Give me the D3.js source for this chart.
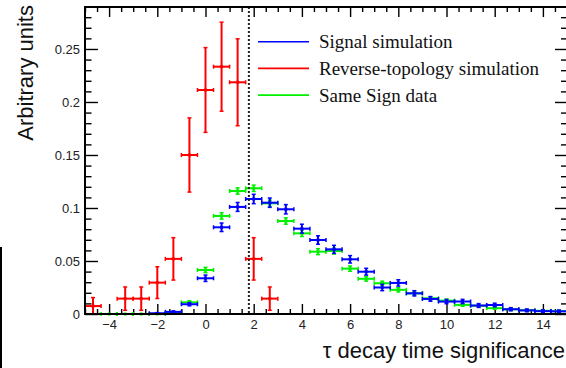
<!DOCTYPE html>
<html>
<head>
<meta charset="utf-8">
<script src="https://cdn.jsdelivr.net/npm/d3@7"></script>
<style>
  html, body { margin: 0; padding: 0; background: #fff; }
  svg { display: block; }
</style>
</head>
<body>
<svg id="chart" width="566" height="368"></svg>
<script>
// Bin centres of the decay-time-significance histograms (bin width 2/3)
const binCenters = [-4.667, -4, -3.333, -2.667, -2, -1.333, -0.667, 0, 0.667, 1.333,
                    2, 2.667, 3.333, 4, 4.667, 5.333, 6, 6.667, 7.333, 8,
                    8.667, 9.333, 10, 10.667, 11.333, 12, 12.667, 13.333, 14, 14.667];
const binWidth = 2 / 3;

// Signal simulation (blue)
const signalValues = [null, null, null, null, 0.0007, 0.002, 0.0092, 0.0337, 0.0818, 0.101,
                      0.1085, 0.105, 0.0988, 0.0805, 0.0698, 0.061, 0.0516, 0.0399, 0.025, 0.0293,
                      0.0195, 0.0142, 0.0117, 0.0118, 0.008, 0.0085, 0.0045, 0.0034, 0.0027, 0.0025];
const signalErrors = [null, null, null, null, 0.0005, 0.0008, 0.0015, 0.003, 0.004, 0.0042,
                      0.0044, 0.0044, 0.0044, 0.0042, 0.004, 0.0038, 0.0035, 0.0032, 0.003, 0.003,
                      0.0025, 0.0022, 0.002, 0.002, 0.0018, 0.0017, 0.0015, 0.0013, 0.0012, 0.0012];

// Reverse-topology simulation (red)
const reverseValues = [0.0075, null, 0.0145, 0.0145, 0.0296, 0.052, 0.150, 0.2113, 0.2333, 0.2186,
                       0.052, 0.0145, null, null, null, null, null, null, null, null,
                       null, null, null, null, null, null, null, null, null, null];
const reverseErrors = [0.008, null, 0.011, 0.011, 0.015, 0.02, 0.035, 0.040, 0.042, 0.041,
                       0.02, 0.011, null, null, null, null, null, null, null, null,
                       null, null, null, null, null, null, null, null, null, null];

// Same Sign data (green)
const sameSignValues = [null, 0, 0, 0, 0, 0.001, 0.011, 0.0415, 0.0925, 0.116,
                        0.1186, 0.1044, 0.0877, 0.0761, 0.0588, 0.0594, 0.0428, 0.0332, 0.029, 0.0228,
                        0.0195, 0.0148, 0.0126, 0.0086, 0.0078, 0.0055, 0.0044, 0.0035, 0.003, 0.0027];
const sameSignErrors = [null, 0, 0, 0, 0, 0.0005, 0.0015, 0.0025, 0.003, 0.003,
                        0.003, 0.003, 0.003, 0.003, 0.0028, 0.0028, 0.0025, 0.0022, 0.002, 0.002,
                        0.0018, 0.0016, 0.0015, 0.0013, 0.0012, 0.0011, 0.001, 0.001, 0.001, 0.001];

// Selection cut on the significance
const cutValue = 1.8;

// Axis ticks
const xMajorTicks = [-4, -2, 0, 2, 4, 6, 8, 10, 12, 14];
const yMajorTicks = [0, 0.05, 0.1, 0.15, 0.2, 0.25];

const legendLabels = ["Signal simulation", "Reverse-topology simulation", "Same Sign data"];
const seriesColors = ["#0000ff", "#ff0000", "#00f000"];

const svg = d3.select("#chart");
const frame = { left: 85, right: 567, top: 7, bottom: 314 };

const x = d3.scaleLinear().domain([-5, 15]).range([frame.left, frame.right]);
const y = d3.scaleLinear().domain([0, 0.2896]).range([frame.bottom, frame.top]);

const xMinor = d3.range(-5, 15.001, 0.5).filter(v => !xMajorTicks.includes(v));
const yMinor = d3.range(0, 0.2896, 0.01).map(v => +v.toFixed(2))
  .filter(v => !yMajorTicks.some(t => Math.abs(t - v) < 1e-9));

const fmtY = d => d === 0 ? "0" : String(+d.toFixed(2));
const fmtX = d => d < 0 ? "\u2212" + Math.abs(d) : String(d);

function styleAxis(g) {
  g.select(".domain").remove();
  g.selectAll(".tick line").attr("stroke", "#000").attr("stroke-width", 1.4);
  g.selectAll(".tick text")
    .attr("fill", "#222")
    .style("font-family", "'Liberation Sans', Arial, Helvetica, sans-serif")
    .style("font-size", "13px");
}

// Bottom axis
svg.append("g").attr("transform", `translate(0,${frame.bottom})`)
  .call(d3.axisBottom(x).tickValues(xMajorTicks).tickSize(-10).tickPadding(6).tickFormat(fmtX))
  .call(styleAxis);
svg.append("g").attr("transform", `translate(0,${frame.bottom})`)
  .call(d3.axisBottom(x).tickValues(xMinor).tickSize(-5).tickFormat(""))
  .call(styleAxis);
// Top axis (ticks only)
svg.append("g").attr("transform", `translate(0,${frame.top})`)
  .call(d3.axisTop(x).tickValues(xMajorTicks).tickSize(-10).tickFormat(""))
  .call(styleAxis);
svg.append("g").attr("transform", `translate(0,${frame.top})`)
  .call(d3.axisTop(x).tickValues(xMinor).tickSize(-5).tickFormat(""))
  .call(styleAxis);
// Left axis
svg.append("g").attr("transform", `translate(${frame.left},0)`)
  .call(d3.axisLeft(y).tickValues(yMajorTicks).tickSize(-13).tickPadding(5).tickFormat(fmtY))
  .call(styleAxis);
svg.append("g").attr("transform", `translate(${frame.left},0)`)
  .call(d3.axisLeft(y).tickValues(yMinor).tickSize(-6.5).tickFormat(""))
  .call(styleAxis);
// Right axis (ticks only)
svg.append("g").attr("transform", `translate(${frame.right},0)`)
  .call(d3.axisRight(y).tickValues(yMajorTicks).tickSize(-12).tickFormat(""))
  .call(styleAxis);
svg.append("g").attr("transform", `translate(${frame.right},0)`)
  .call(d3.axisRight(y).tickValues(yMinor).tickSize(-6).tickFormat(""))
  .call(styleAxis);

// Histogram with error bars
const plot = svg.append("g");
function drawHist(values, errors, color) {
  const g = plot.append("g").attr("stroke", color).attr("stroke-width", 2).attr("fill", "none");
  const cap = 2;
  binCenters.forEach((c, i) => {
    const v = values[i];
    if (v === null || v === undefined) return;
    const e = errors[i] || 0;
    const x0 = x(c - binWidth / 2), x1 = x(c + binWidth / 2), xc = x(c), yc = y(v);
    g.append("line").attr("x1", x0).attr("x2", x1).attr("y1", yc).attr("y2", yc);
    g.append("line").attr("x1", x0).attr("x2", x0).attr("y1", yc - cap).attr("y2", yc + cap).attr("stroke-width", 1.5);
    g.append("line").attr("x1", x1).attr("x2", x1).attr("y1", yc - cap).attr("y2", yc + cap).attr("stroke-width", 1.5);
    if (e > 0) {
      const lo = Math.max(0, v - e), hi = v + e;
      g.append("line").attr("x1", xc).attr("x2", xc).attr("y1", y(lo)).attr("y2", y(hi));
      g.append("line").attr("x1", xc - cap).attr("x2", xc + cap).attr("y1", y(hi)).attr("y2", y(hi)).attr("stroke-width", 1.5);
      if (v - e > 0) {
        g.append("line").attr("x1", xc - cap).attr("x2", xc + cap).attr("y1", y(lo)).attr("y2", y(lo)).attr("stroke-width", 1.5);
      }
    }
    g.append("rect").attr("x", xc - 1.5).attr("y", yc - 1.5).attr("width", 3).attr("height", 3)
      .attr("fill", color).attr("stroke", "none");
  });
}
drawHist(sameSignValues, sameSignErrors, seriesColors[2]);
drawHist(signalValues, signalErrors, seriesColors[0]);
drawHist(reverseValues, reverseErrors, seriesColors[1]);

// Cut line
svg.append("line")
  .attr("x1", x(cutValue)).attr("x2", x(cutValue))
  .attr("y1", frame.top).attr("y2", frame.bottom)
  .attr("stroke", "#222").attr("stroke-width", 2).attr("stroke-dasharray", "2,2");

// Frame
svg.append("path")
  .attr("d", `M${frame.left},${frame.bottom}V${frame.top}H${frame.right}V${frame.bottom}Z`)
  .attr("fill", "none").attr("stroke", "#000").attr("stroke-width", 2);

// Legend
const legend = svg.append("g");
legendLabels.forEach((label, i) => {
  const ly = 41.7 + i * 26.7;
  legend.append("line").attr("x1", 258).attr("x2", 309).attr("y1", ly).attr("y2", ly)
    .attr("stroke", seriesColors[i]).attr("stroke-width", 1.6);
  legend.append("text").attr("x", 319).attr("y", ly + 6.5)
    .attr("fill", "#111")
    .style("font-family", "'Liberation Serif', 'Times New Roman', serif")
    .style("font-size", "19px")
    .text(label);
});

// Axis titles
svg.append("text")
  .attr("transform", "translate(32.5,5) rotate(-90)")
  .attr("text-anchor", "end")
  .attr("fill", "#111")
  .style("font-family", "'Liberation Sans', Arial, Helvetica, sans-serif")
  .style("font-size", "22px")
  .text("Arbitrary units");
svg.append("text")
  .attr("x", 565).attr("y", 358)
  .attr("text-anchor", "end")
  .attr("fill", "#111")
  .style("font-family", "'Liberation Sans', Arial, Helvetica, sans-serif")
  .style("font-size", "22px")
  .text("\u03c4 decay time significance");

// Edge of the neighbouring panel
svg.append("rect").attr("x", 0).attr("y", 247).attr("width", 2).attr("height", 121).attr("fill", "#000");
</script>
</body>
</html>
